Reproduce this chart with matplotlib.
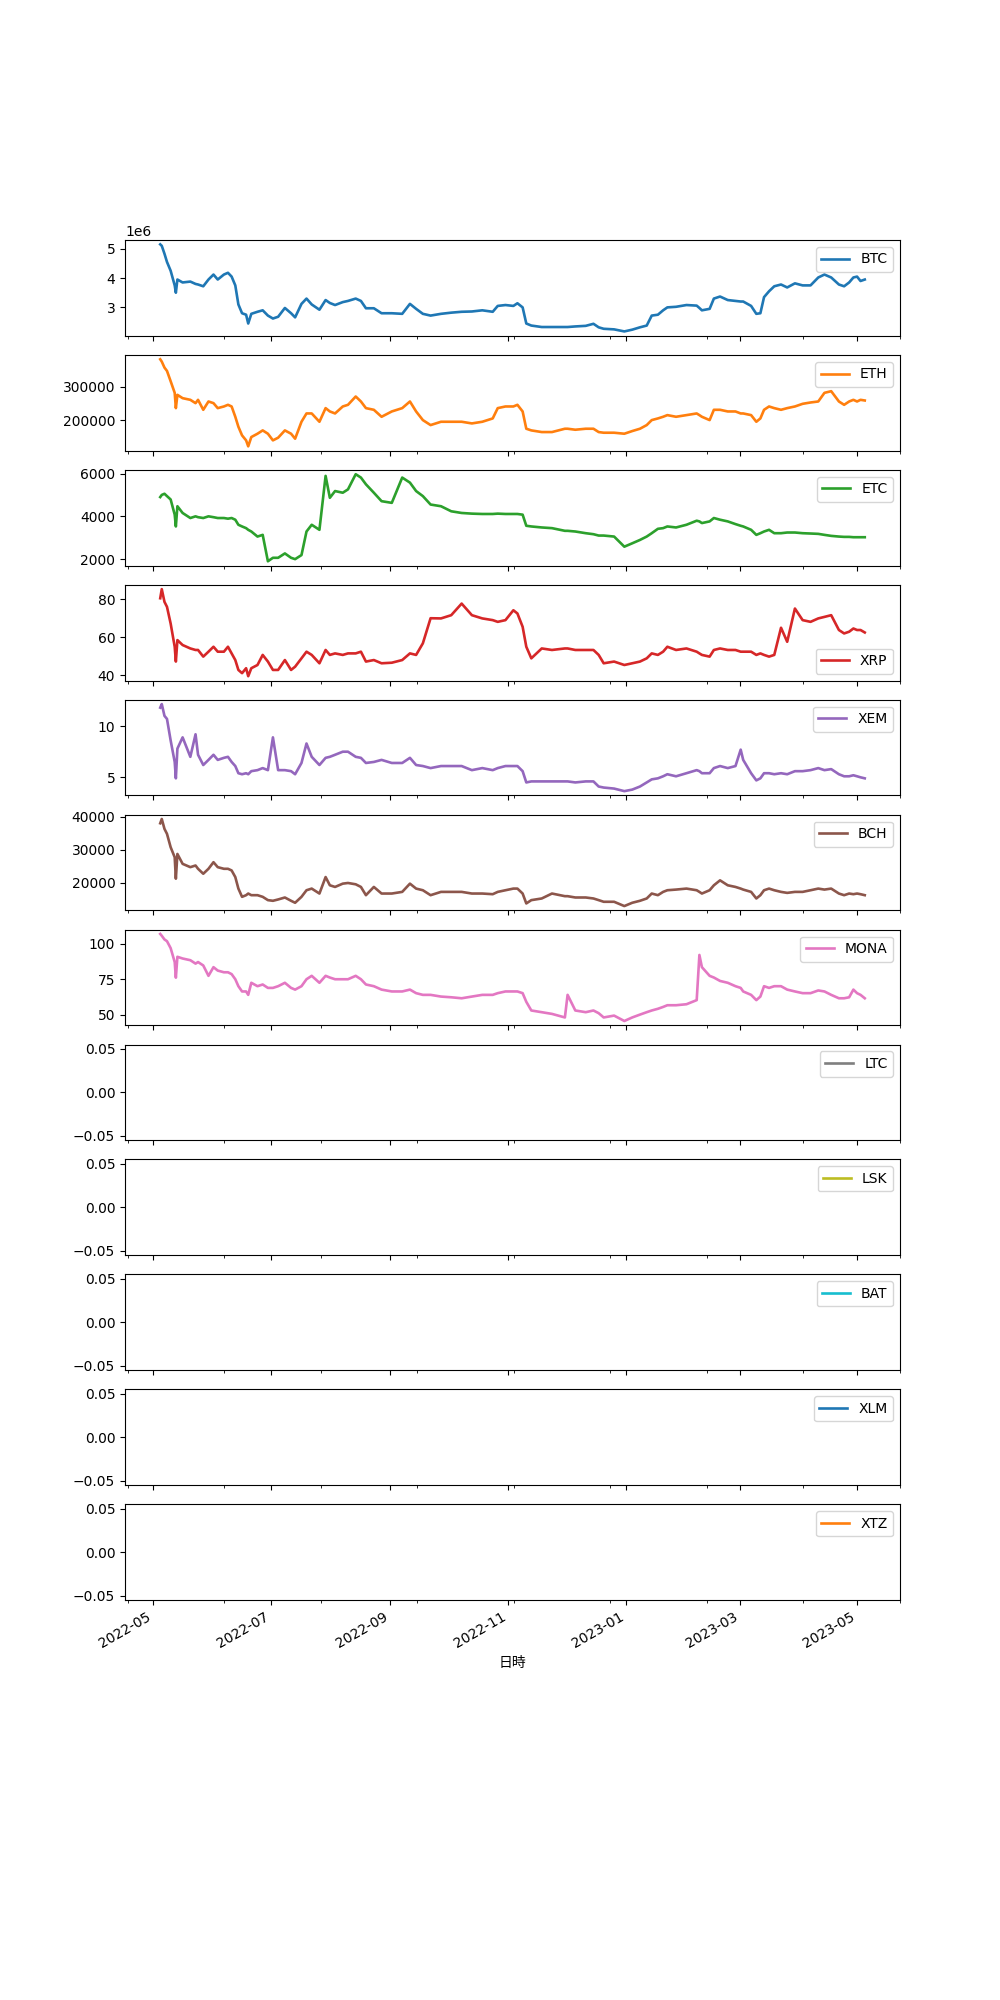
import matplotlib
matplotlib.use("Agg")
import matplotlib.pyplot as plt
from matplotlib.ticker import MultipleLocator
import numpy as np
import pandas as pd

base_date = "2022-05-01"
day_offsets = [3.7, 4.5, 5.9, 7.2, 9.1, 11.2, 11.8, 12.6, 15.3, 19.3, 22.0, 23.3, 26.0, 28.7, 31.3, 33.5,
               36.7, 38.8, 40.7, 42.6, 44.2, 46.1, 48.2, 49.3, 50.9, 54.1, 56.8, 59.5, 62.1, 64.8,
               68.3, 71.5, 73.6, 76.9, 79.5, 82.2, 86.2, 89.4, 91.6, 94.3, 98.3, 101.0, 105.0,
               107.7, 110.3, 114.4, 118.4, 123.7, 129.1, 133.1, 136.3, 139.8, 143.8, 149.2, 154.5,
               159.9, 165.2, 170.6, 176.0, 178.6, 182.6, 186.7, 188.8, 191.5, 193.4, 196.0, 201.4,
               206.7, 213.4, 214.8, 218.8, 224.2, 228.2, 230.9, 233.5, 238.9, 244.2, 248.3, 252.3,
               255.8, 258.4, 261.6, 264.3, 266.5, 271.0, 276.4, 281.7, 283.1, 284.4, 288.4, 290.6,
               293.8, 297.8, 301.8, 304.5, 305.8, 309.9, 312.6, 314.7, 316.6, 319.2, 321.9, 325.4,
               328.6, 332.6, 336.6, 340.7, 344.7, 347.9, 351.4, 355.4, 358.1, 360.7, 362.9, 364.8,
               366.6, 368.8]

btc_million = [5.15, 5.10, 4.83, 4.55, 4.25, 3.75, 3.50, 3.95, 3.85, 3.88, 3.80, 3.78, 3.72, 3.95, 4.12, 3.95,
               4.12, 4.18, 4.05, 3.75, 3.10, 2.80, 2.75, 2.45, 2.78, 2.85, 2.90, 2.72, 2.62, 2.68,
               2.98, 2.80, 2.66, 3.12, 3.30, 3.10, 2.92, 3.25, 3.15, 3.08, 3.18, 3.22, 3.30,
               3.22, 2.97, 2.97, 2.80, 2.80, 2.78, 3.12, 2.95, 2.78, 2.72, 2.78, 2.82,
               2.85, 2.86, 2.90, 2.85, 3.05, 3.08, 3.05, 3.14, 3.00, 2.45, 2.38, 2.33,
               2.33, 2.33, 2.33, 2.35, 2.37, 2.44, 2.32, 2.27, 2.25, 2.18, 2.24, 2.32,
               2.38, 2.72, 2.75, 2.90, 3.00, 3.02, 3.08, 3.06, 2.98, 2.90, 2.95, 3.30,
               3.37, 3.25, 3.22, 3.20, 3.20, 3.05, 2.78, 2.80, 3.35, 3.55, 3.72, 3.78,
               3.68, 3.82, 3.75, 3.75, 4.02, 4.12, 4.02, 3.78, 3.72, 3.85, 4.02, 4.05,
               3.90, 3.95]

eth_thousand = [383, 376, 358, 348, 317, 282, 236, 276, 266, 261, 251, 261, 231, 256, 251, 236,
                241, 246, 241, 210, 180, 154, 139, 121, 149, 159, 169, 159, 139, 147,
                169, 159, 144, 195, 220, 220, 195, 236, 226, 220, 241, 246, 271,
                256, 236, 231, 210, 226, 236, 256, 226, 200, 185, 195, 195,
                195, 190, 195, 205, 236, 241, 241, 246, 226, 174, 169, 164,
                164, 174, 174, 171, 174, 174, 164, 162, 162, 159, 167, 174,
                185, 200, 205, 210, 215, 210, 215, 220, 215, 210, 200, 231,
                231, 226, 226, 220, 220, 215, 195, 205, 231, 241, 236, 231,
                236, 241, 249, 253, 256, 282, 287, 256, 246, 256, 261, 256,
                261, 259]

etc = [4900, 5000, 5055, 4945, 4787, 4080, 3527, 4472, 4157, 3921, 4000, 3960, 3921, 4000, 3960, 3921,
       3921, 3890, 3921, 3842, 3606, 3527, 3448, 3370, 3291, 3055, 3134, 1900, 2063, 2063,
       2267, 2063, 2000, 2189, 3291, 3606, 3370, 5890, 4866, 5181, 5103, 5260, 5968,
       5811, 5496, 5103, 4708, 4630, 5811, 5575, 5181, 4945, 4551, 4472, 4236,
       4157, 4126, 4110, 4110, 4126, 4110, 4110, 4110, 4078, 3559, 3527, 3480,
       3448, 3323, 3323, 3291, 3212, 3165, 3102, 3102, 3055, 2582, 2740, 2897,
       3055, 3212, 3417, 3448, 3527, 3480, 3606, 3795, 3763, 3685, 3763, 3921,
       3842, 3763, 3637, 3559, 3527, 3370, 3134, 3212, 3291, 3370, 3212, 3212,
       3244, 3244, 3212, 3197, 3181, 3134, 3087, 3055, 3040, 3040, 3024, 3024,
       3024, 3024]

xrp = [80.5, 85.3, 78.6, 76.0, 67.2, 55.0, 47.2, 58.5, 55.9, 54.1, 53.3, 53.3, 49.8, 52.4, 55.0, 52.4,
       52.4, 55.0, 51.5, 48.0, 42.8, 41.1, 43.7, 39.5, 43.7, 45.4, 50.7, 47.2, 42.8, 42.8,
       48.0, 42.8, 44.5, 48.9, 52.4, 50.7, 46.3, 53.3, 50.7, 51.5, 50.7, 51.5, 51.5,
       52.4, 47.2, 48.0, 46.3, 46.6, 48.0, 51.5, 50.7, 56.8, 70.0, 69.9, 71.6,
       77.7, 71.6, 69.9, 69.0, 68.1, 69.0, 74.2, 72.5, 65.5, 55.0, 48.9, 54.1,
       53.3, 54.1, 54.1, 53.3, 53.3, 53.3, 50.7, 46.3, 47.2, 45.4, 46.3, 47.2,
       48.9, 51.5, 50.7, 52.4, 55.0, 53.3, 54.1, 52.4, 51.5, 50.7, 49.8, 53.3,
       54.1, 53.3, 53.3, 52.4, 52.4, 52.4, 50.7, 51.5, 50.7, 49.8, 50.7, 65.0,
       57.6, 75.1, 69.0, 68.1, 69.9, 70.7, 71.6, 63.8, 62.0, 62.9, 64.6, 63.8,
       63.8, 62.5]

xem = [11.8, 12.15, 11.0, 10.7, 8.6, 6.5, 4.9, 7.8, 8.9, 7.0, 9.2, 7.2, 6.2, 6.7, 7.2, 6.7,
       6.9, 7.0, 6.5, 6.1, 5.4, 5.3, 5.4, 5.3, 5.6, 5.7, 5.9, 5.7, 8.9, 5.7,
       5.7, 5.6, 5.3, 6.4, 8.3, 7.0, 6.2, 6.9, 7.0, 7.2, 7.5, 7.5, 7.0,
       6.9, 6.4, 6.5, 6.7, 6.4, 6.4, 6.9, 6.2, 6.1, 5.9, 6.1, 6.1,
       6.1, 5.7, 5.9, 5.7, 5.9, 6.1, 6.1, 6.1, 5.6, 4.5, 4.6, 4.6,
       4.6, 4.6, 4.6, 4.5, 4.6, 4.6, 4.1, 4.0, 3.9, 3.65, 3.8, 4.1,
       4.5, 4.8, 4.9, 5.1, 5.3, 5.1, 5.4, 5.7, 5.6, 5.4, 5.4, 5.9,
       6.1, 5.9, 6.1, 7.7, 6.7, 5.4, 4.7, 4.9, 5.4, 5.4, 5.3, 5.4,
       5.3, 5.6, 5.6, 5.7, 5.9, 5.7, 5.8, 5.3, 5.1, 5.1, 5.2, 5.1,
       5.0, 4.9]

bch = [38000, 39300, 36300, 34800, 30750, 27700, 21200, 28700, 25700, 24700, 25200, 24200, 22700, 24200, 26200, 24700,
       24200, 24200, 23700, 21700, 18200, 15700, 16200, 16700, 16200, 16200, 15700, 14700, 14500, 14900,
       15500, 14500, 13900, 15700, 17700, 18200, 16700, 21700, 19200, 18700, 19700, 19900, 19500,
       18700, 16200, 18700, 16700, 16700, 17200, 19700, 18200, 17700, 16200, 17200, 17200,
       17200, 16700, 16700, 16500, 17200, 17700, 18200, 18200, 16700, 13700, 14700, 15200,
       16700, 15900, 15900, 15500, 15500, 15200, 14700, 14200, 14200, 12900, 13900, 14500,
       15200, 16700, 16200, 17200, 17700, 17900, 18200, 17700, 17200, 16700, 17700, 19200,
       20700, 19200, 18700, 18200, 17900, 17200, 15200, 16200, 17700, 18200, 17700, 17200,
       16900, 17200, 17200, 17700, 18200, 17900, 18200, 16700, 16200, 16700, 16500, 16700,
       16500, 16200]

mona = [106.8, 105.5, 102.9, 101.7, 96.8, 87.0, 76.0, 90.7, 89.5, 88.3, 85.9, 87.0, 84.6, 77.3, 83.4, 81.0,
        79.8, 79.8, 78.5, 74.9, 70.0, 66.3, 66.3, 63.9, 72.4, 70.0, 71.2, 68.8, 68.8, 70.0,
        72.4, 68.8, 67.6, 70.0, 74.9, 77.3, 72.4, 77.3, 76.1, 74.9, 74.9, 74.9, 77.3,
        74.9, 71.2, 70.0, 67.6, 66.3, 66.3, 67.6, 65.1, 63.9, 63.9, 62.7, 62.2,
        61.5, 62.7, 63.9, 63.9, 65.1, 66.3, 66.3, 66.3, 65.1, 59.0, 52.9, 51.7,
        50.5, 48.0, 63.9, 52.9, 51.7, 52.9, 51.0, 48.0, 49.3, 45.5, 48.0, 50.0,
        51.7, 52.9, 54.1, 55.4, 56.6, 56.6, 57.3, 60.2, 92.0, 83.4, 77.3, 76.1,
        73.7, 72.4, 70.0, 68.8, 66.3, 63.9, 60.2, 62.7, 70.0, 68.8, 70.0, 70.0,
        67.6, 66.3, 65.1, 65.1, 67.0, 66.3, 63.9, 61.5, 61.5, 62.2, 67.6, 65.1,
        63.9, 61.5]

empty_columns = ["LTC", "LSK", "BAT", "XLM", "XTZ"]
index_name = "日時"

index = pd.to_datetime(base_date) + pd.to_timedelta(day_offsets, unit="D")
index = pd.DatetimeIndex(index, name=index_name)
df = pd.DataFrame({
    "BTC": np.array(btc_million) * 1e6,
    "ETH": np.array(eth_thousand) * 1e3,
    "ETC": etc,
    "XRP": xrp,
    "XEM": xem,
    "BCH": bch,
    "MONA": mona,
}, index=index)
for c in empty_columns:
    df[c] = np.nan

axes = df.plot(subplots=True, figsize=(10, 20), linewidth=1.9)
fig = axes[0].get_figure()
for ax in axes:
    ax.xaxis.set_minor_locator(MultipleLocator(50))
axes[-1].set_xlabel(index_name, fontfamily=["Noto Sans CJK JP", "DejaVu Sans"])
fig.savefig("out.png", dpi=100)
